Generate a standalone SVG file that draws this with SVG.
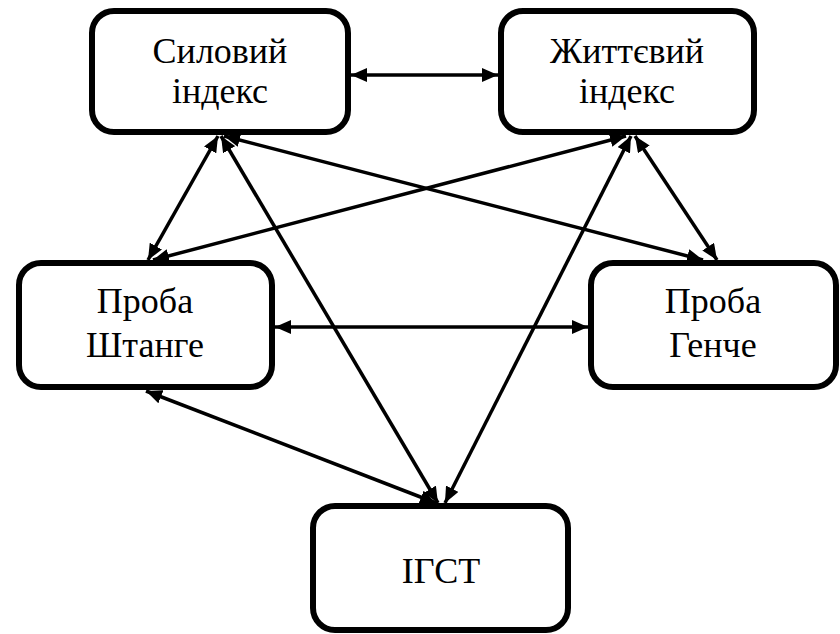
<svg xmlns="http://www.w3.org/2000/svg" width="840" height="634" viewBox="0 0 840 634">
<style>
.box{fill:#fff;stroke:#000;stroke-width:6}
.lbl{font-family:'Times New Roman','Liberation Serif','DejaVu Serif',serif;font-size:36px;fill:#000;text-anchor:middle}
.c{stroke:#000;stroke-width:3.5;fill:none;marker-start:url(#ah);marker-end:url(#ah)}
</style>
<defs>
<marker id="ah" markerUnits="userSpaceOnUse" markerWidth="16" markerHeight="14" viewBox="0 0 16 14" refX="16" refY="7" orient="auto-start-reverse">
<path d="M0,0 L16,7 L0,14 z" fill="#000"/>
</marker>
</defs>
<rect width="840" height="634" fill="#fff"/>
<g id="connectors">
<line class="c" x1="351" y1="75" x2="498" y2="75"/>
<line class="c" x1="218" y1="136" x2="148" y2="260"/>
<line class="c" x1="221" y1="136" x2="438" y2="503"/>
<line class="c" x1="224" y1="136" x2="703" y2="260"/>
<line class="c" x1="626" y1="136" x2="153" y2="260"/>
<line class="c" x1="631" y1="136" x2="445" y2="503"/>
<line class="c" x1="635" y1="136" x2="717" y2="260"/>
<line class="c" x1="275" y1="327" x2="588" y2="327"/>
<line class="c" x1="146" y1="391" x2="436" y2="503"/>
</g>
<g id="n1"><rect class="box" x="92" y="11" width="256" height="121" rx="22"/><text class="lbl" x="220" y="63">Силовий</text><text class="lbl" x="220" y="103">індекс</text></g>
<g id="n2"><rect class="box" x="501" y="11" width="253" height="121" rx="22"/><text class="lbl" x="627" y="63">Життєвий</text><text class="lbl" x="627" y="103">індекс</text></g>
<g id="n3"><rect class="box" x="19" y="263" width="253" height="124" rx="22"/><text class="lbl" x="145" y="313">Проба</text><text class="lbl" x="145" y="357">Штанге</text></g>
<g id="n4"><rect class="box" x="591" y="263" width="245" height="124" rx="22"/><text class="lbl" x="713" y="313">Проба</text><text class="lbl" x="713" y="357">Генче</text></g>
<g id="n5"><rect class="box" x="313" y="506" width="255" height="124" rx="22"/><text class="lbl" x="441" y="583">ІГСТ</text></g>
</svg>
